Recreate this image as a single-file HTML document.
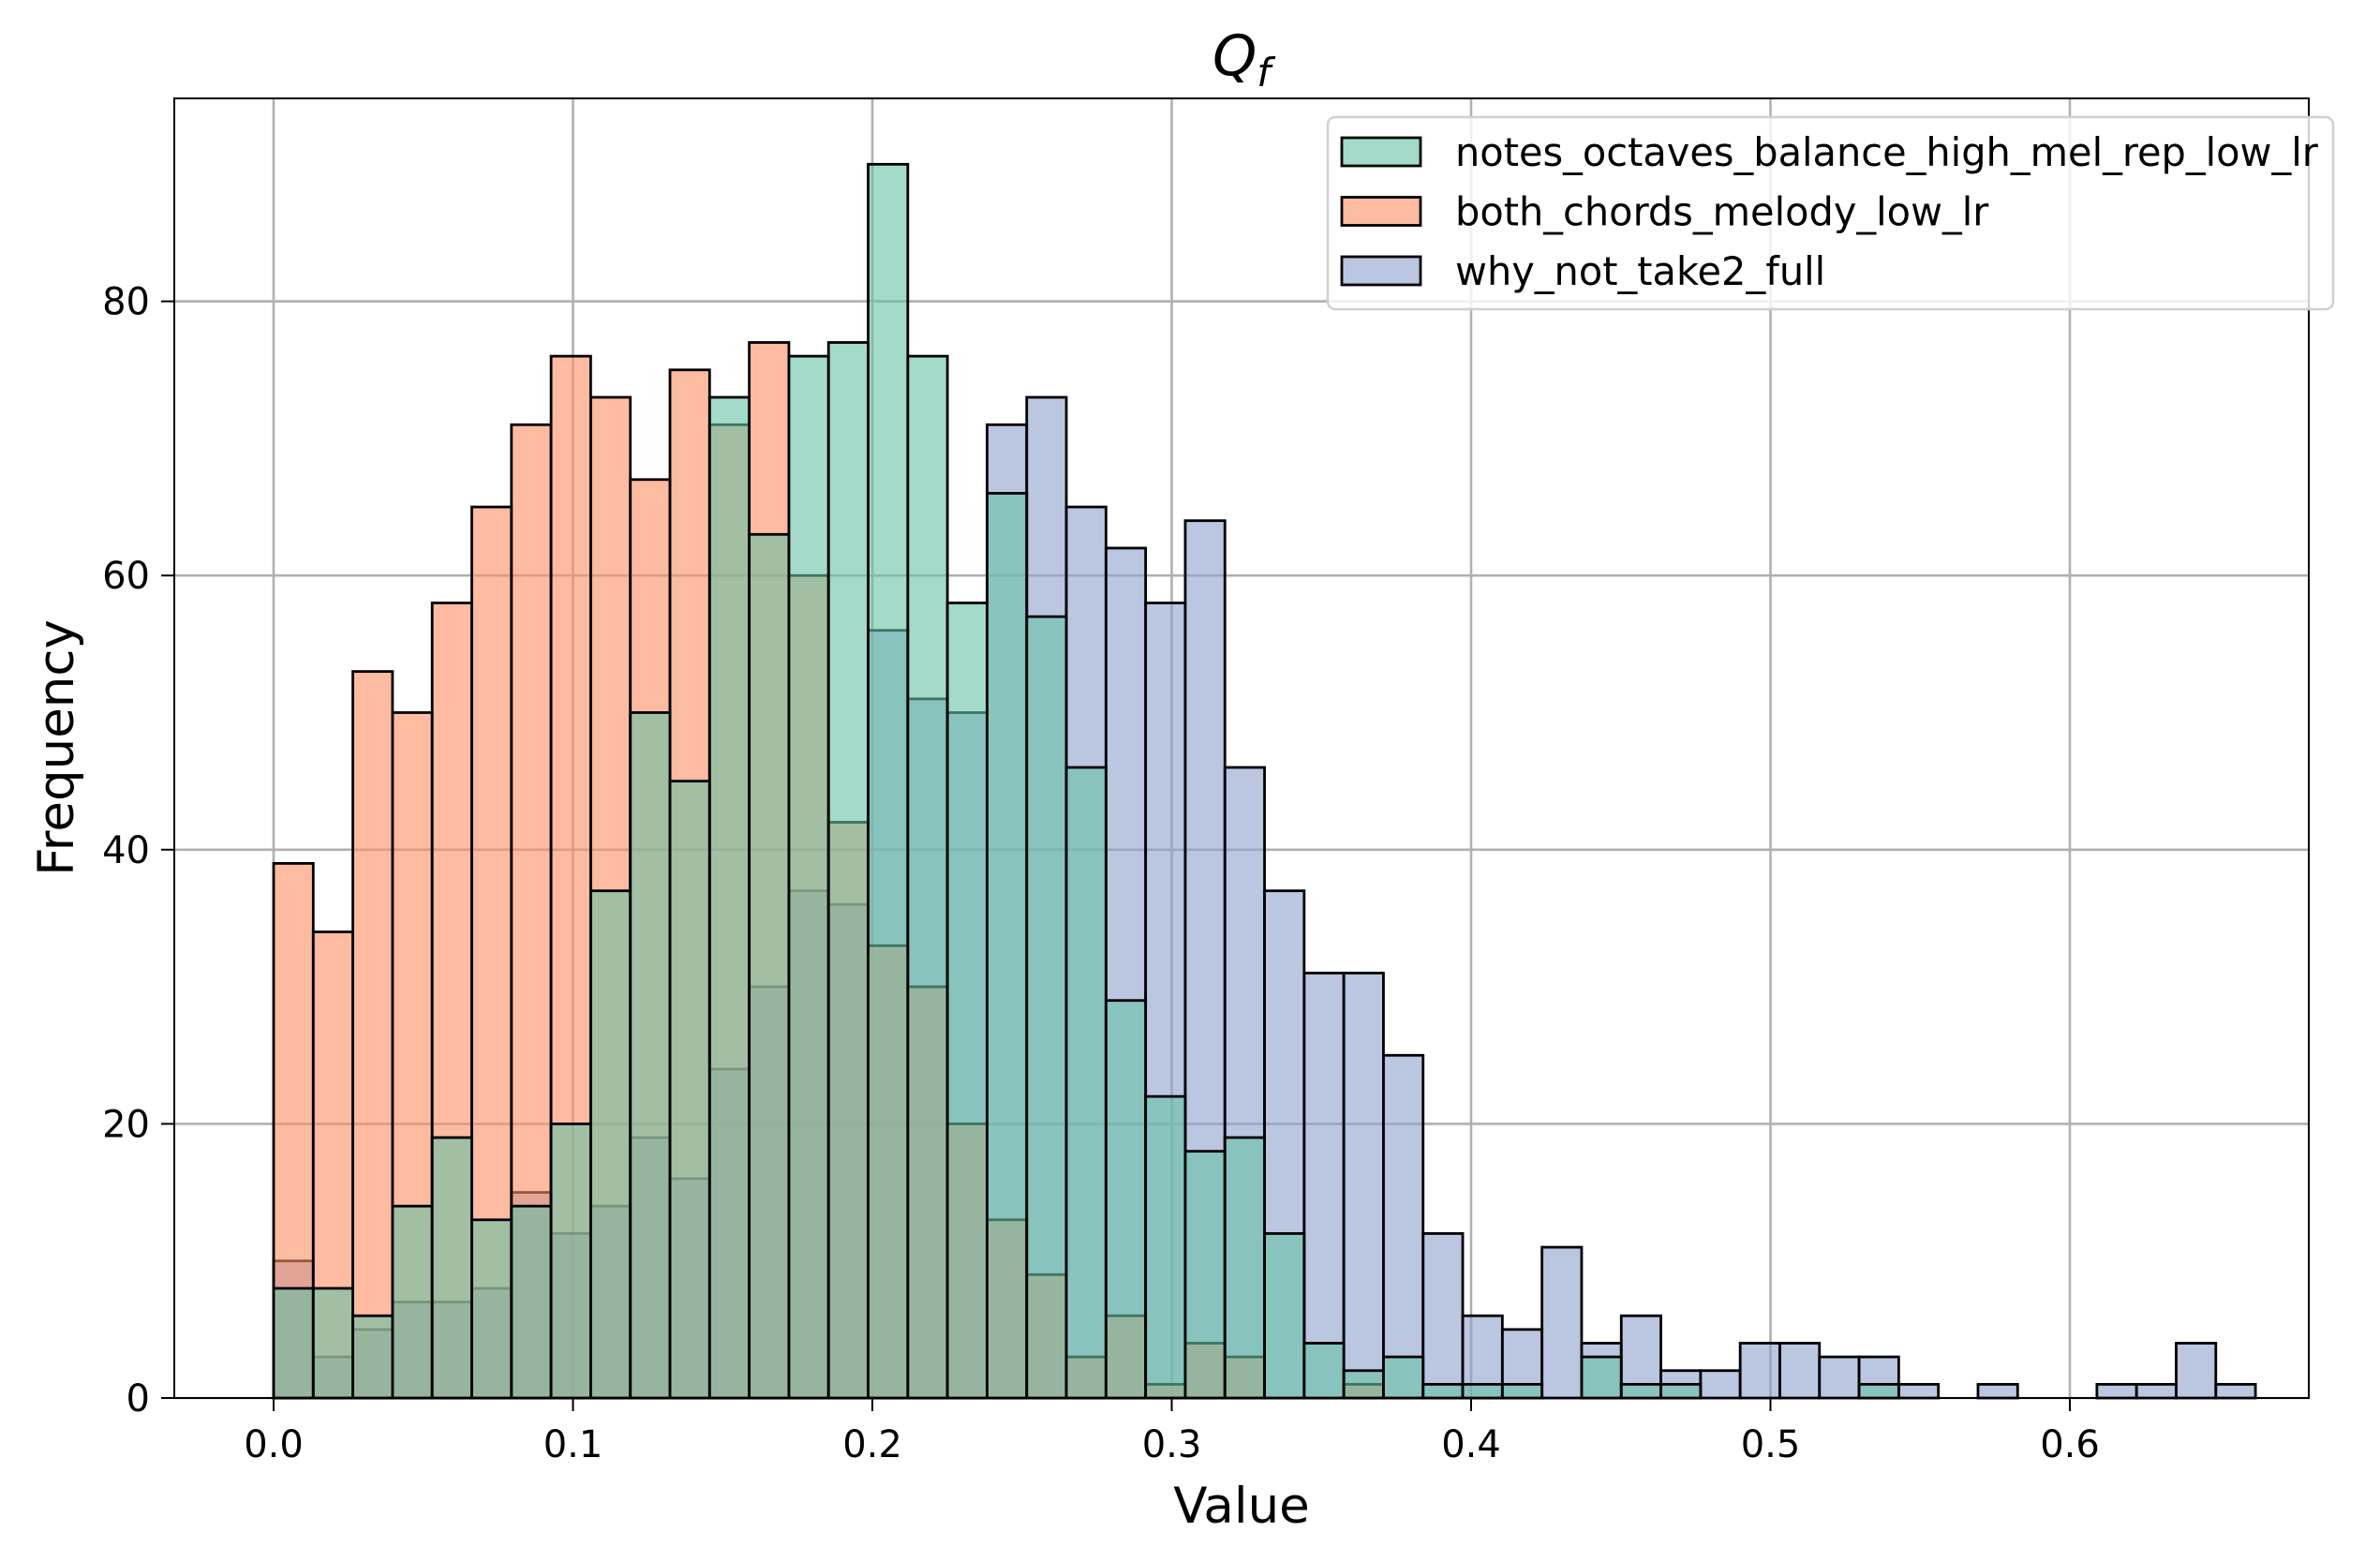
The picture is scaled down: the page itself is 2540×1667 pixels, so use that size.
<!DOCTYPE html>
<html><head><meta charset="utf-8"><style>
html,body{margin:0;padding:0;background:#fff;}
svg{display:block;font-family:"DejaVu Sans","Liberation Sans",sans-serif;}
</style></head><body>
<svg id="chart" width="2540" height="1667" viewBox="0 0 2540 1667" xmlns="http://www.w3.org/2000/svg">
<rect width="2540" height="1667" fill="#fff"/>
<g id="grid"></g>
<g id="bars"></g>
<rect x="186" y="105" width="2278" height="1387" fill="none" stroke="#000" stroke-width="2"/>
<g id="ticks"></g>
<text x="1325" y="80" font-size="60" text-anchor="middle" font-style="italic">Q<tspan font-size="42" dy="12">f</tspan></text>
<text x="1325" y="1625" font-size="53" text-anchor="middle">Value</text>
<text transform="translate(78,798) rotate(-90)" font-size="53" text-anchor="middle">Frequency</text>
<g id="legend"></g>
</svg>
<script>
const binStart = 0;
const binWidth = 0.01324;
const seriesNames = ["notes_octaves_balance_high_mel_rep_low_lr","both_chords_melody_low_lr","why_not_take2_full"];
const greenValues = [8,8,6,14,19,13,14,20,37,50,45,73,63,76,77,90,76,58,66,57,46,29,22,18,19,12,4,2,3,1,1,1,0,3,1,1,0,0,0,0,1,0,0,0,0,0,0,0,0,0];
const orangeValues = [39,34,53,50,58,65,71,76,73,67,75,71,77,60,42,33,30,20,13,9,3,6,1,4,3,0,0,1,0,0,0,0,0,0,0,0,0,0,0,0,0,0,0,0,0,0,0,0,0,0];
const blueValues = [10,3,5,7,7,8,15,12,14,19,16,24,30,37,36,56,51,50,71,73,65,62,58,64,46,37,31,31,25,12,6,5,11,4,6,2,2,4,4,3,3,1,0,1,0,0,1,1,4,1];
const xTicks = [0.0,0.1,0.2,0.3,0.4,0.5,0.6];
const xTickLabels = ["0.0","0.1","0.2","0.3","0.4","0.5","0.6"];
const yTicks = [0,20,40,60,80];

const NS="http://www.w3.org/2000/svg";
const X0=292, XPER=3195, Y0=1492, YPER=14.63;
function xs(v){return X0+v*XPER;}
function ys(v){return Y0-v*YPER;}
function mk(tag,attrs,parent){const e=document.createElementNS(NS,tag);for(const k in attrs)e.setAttribute(k,attrs[k]);parent.appendChild(e);return e;}
const grid=document.getElementById('grid'), bars=document.getElementById('bars'), ticks=document.getElementById('ticks'), legend=document.getElementById('legend');
xTicks.forEach((t,i)=>{
  const g=mk('line',{x1:xs(t),x2:xs(t),y1:105,y2:1492,stroke:'#b0b0b0','stroke-width':2.6},grid);
  
  
  const tk=mk('line',{x1:xs(t),x2:xs(t),y1:1492,y2:1506,stroke:'#000','stroke-width':2},ticks);
  
  
  const tx=mk('text',{x:xs(t),y:1555,'font-size':40,'text-anchor':'middle'},ticks);
  tx.textContent=xTickLabels[i];
  
  
});
yTicks.forEach(t=>{
  const g=mk('line',{x1:186,x2:2464,y1:ys(t),y2:ys(t),stroke:'#b0b0b0','stroke-width':2.6},grid);
  
  
  const tk=mk('line',{x1:172,x2:186,y1:ys(t),y2:ys(t),stroke:'#000','stroke-width':2},ticks);
  
  
  const tx=mk('text',{x:160,y:ys(t)+14,'font-size':40,'text-anchor':'end'},ticks);
  tx.textContent=String(t);
  
  
});
function drawSeries(vals,color,name){
  vals.forEach((v,i)=>{
    if(v<=0)return;
    const x1=xs(binStart+i*binWidth), x2=xs(binStart+(i+1)*binWidth);
    const r=mk('rect',{x:x1,y:ys(v),width:x2-x1,height:ys(0)-ys(v),fill:color,'fill-opacity':0.6,stroke:'#000','stroke-width':2.8},bars);
    
    
  });
}
drawSeries(blueValues,'#8da0cb','why-not-take2-full');
drawSeries(orangeValues,'#fc8d62','both-chords-melody');
drawSeries(greenValues,'#66c2a5','notes-octaves');
const lb=mk('rect',{x:1417,y:125,width:1073,height:205,rx:8,fill:'#fff','fill-opacity':0.8,stroke:'#d0d0d0','stroke-width':2.5},legend);


const legColors=['#66c2a5','#fc8d62','#8da0cb'];
seriesNames.forEach((n,i)=>{
  const cy=163+i*63.5;
  const p=mk('rect',{x:1432,y:cy-16,width:84,height:30,fill:legColors[i],'fill-opacity':0.6,stroke:'#000','stroke-width':2.8},legend);
  
  
  const t=mk('text',{x:1553,y:cy+14,'font-size':41.5},legend);
  t.textContent=n;
  
  
});
</script>
</body></html>
